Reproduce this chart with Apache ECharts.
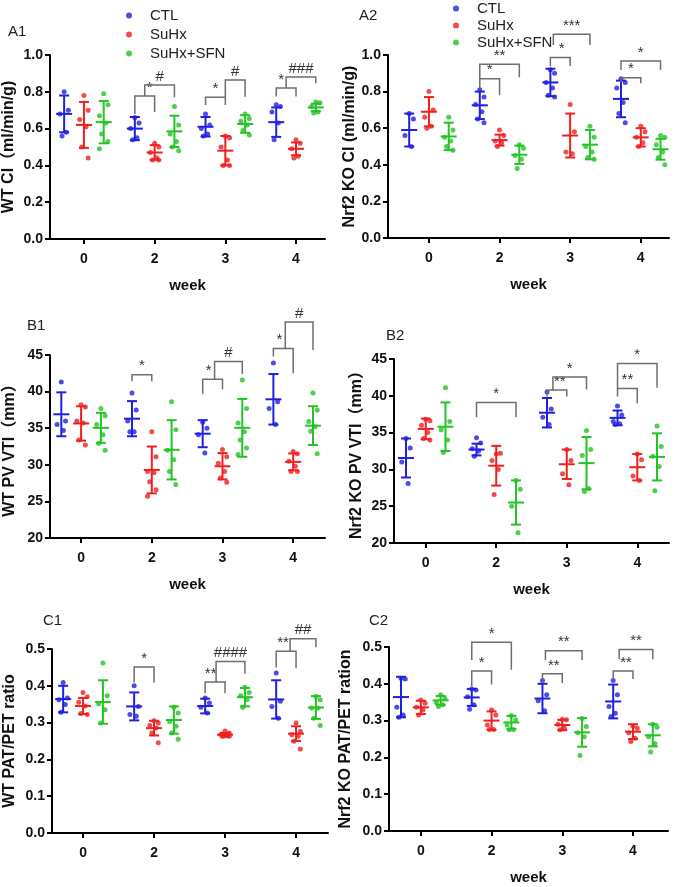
<!DOCTYPE html>
<html>
<head>
<meta charset="utf-8">
<script src="https://cdn.jsdelivr.net/npm/echarts@6/dist/echarts.min.js"></script>
<style>
html,body{margin:0;padding:0;background:#fff;}
#main{width:676px;height:887px;}
</style>
</head>
<body>
<div id="main"></div>
<script>
// 周数和分组
var weeks = ['0', '2', '3', '4'];
var groups = ['CTL', 'SuHx', 'SuHx+SFN'];

// A1 WT CI, 每周各点
var a1Ctl = [[0.80,0.70,0.68,0.58,0.56],[0.66,0.63,0.60,0.55,0.54],[0.68,0.62,0.60,0.57,0.56],[0.73,0.72,0.69,0.63,0.54]];
var a1Suhx = [[0.78,0.70,0.65,0.61,0.50,0.44],[0.52,0.50,0.47,0.44,0.43,0.43],[0.56,0.55,0.50,0.43,0.40,0.40],[0.54,0.52,0.49,0.45,0.44]];
var a1Sfn = [[0.79,0.73,0.67,0.63,0.57,0.53,0.49],[0.72,0.62,0.57,0.53,0.50,0.48],[0.68,0.655,0.64,0.62,0.59,0.565],[0.745,0.74,0.72,0.69,0.685]];
var a1Mean = [[0.68,0.62,0.635],[0.60,0.47,0.585],[0.61,0.48,0.625],[0.635,0.49,0.715]];
var a1Sd = [[0.10,0.125,0.115],[0.063,0.04,0.085],[0.053,0.08,0.048],[0.08,0.035,0.02]];
// [周, 起组, 止组, 顶, 左脚, 右脚, 标记]
var a1Sig = [[1,0,1,0.777,0.68,0.69,'*'],[1,0.5,2,0.837,0.777,0.77,'#'],[2,0,1,0.77,0.728,0.728,'*'],[2,1,2,0.864,0.77,0.773,'#'],[3,0,1,0.82,0.775,0.775,'*'],[3,0.5,2,0.88,0.82,0.846,'###']];

// A2 Nrf2 KO CI
var a2Ctl = [[0.68,0.65,0.56,0.50],[0.81,0.77,0.73,0.69,0.65,0.63],[0.92,0.90,0.85,0.82,0.78,0.77],[0.87,0.85,0.82,0.74,0.68,0.63]];
var a2Suhx = [[0.80,0.70,0.66,0.61,0.60],[0.59,0.56,0.53,0.52,0.50],[0.73,0.58,0.47,0.46],[0.61,0.58,0.55,0.52,0.50]];
var a2Sfn = [[0.66,0.59,0.55,0.53,0.50,0.48],[0.51,0.49,0.45,0.43,0.38],[0.61,0.55,0.50,0.47,0.44,0.43],[0.56,0.55,0.51,0.47,0.44,0.40]];
var a2Mean = [[0.59,0.69,0.555],[0.725,0.535,0.455],[0.85,0.56,0.51],[0.76,0.55,0.485]];
var a2Sd = [[0.09,0.08,0.075],[0.075,0.03,0.05],[0.075,0.12,0.08],[0.10,0.05,0.057]];
var a2Sig = [[1,0,1,0.87,0.82,0.78,'*'],[1,0,2,0.95,0.87,0.878,'**'],[2,0,1,0.987,0.94,0.94,'*'],[2,0.15,2,1.113,1.055,1.055,'***'],[3,0,1,0.876,0.85,0.845,'*'],[3,0,2,0.967,0.918,0.918,'*']];

// B1 WT PV VTI
var b1Ctl = [[41.3,36.0,35.5,34.7],[39.8,37.5,36.0,34.5,34.5],[35.8,35.0,34.1,31.6],[43.9,38.6,37.7,35.5]];
var b1Suhx = [[38.2,37.9,36.0,35.7,33.4,32.7],[34.5,31.1,29.1,28.9,27.7,26.6,25.7],[32.1,31.1,30.2,29.1,28.2,27.6],[31.8,31.5,30.5,29.8,29.1,29.1]];
var b1Sfn = [[37.7,36.7,35.5,34.1,32.9,32.0],[38.6,34.8,32.0,30.7,29.1,27.3],[41.6,37.7,35.7,34.5,33.4,32.3,31.4],[39.8,37.5,35.9,35.2,34.6,31.5]];
var b1Mean = [[36.9,35.65,35.05],[36.3,29.3,32.05],[34.25,29.8,35.05],[38.95,30.4,35.35]];
var b1Sd = [[3.0,2.35,2.05],[2.4,3.2,4.05],[1.85,1.8,3.95],[3.45,1.15,2.65]];
var b1Sig = [[1,0,1,42.3,41.4,41.4,'*'],[2,0,1,41.7,39.7,40.3,'*'],[2,0.6,2,44.1,41.7,42.4,'#'],[3,0,1,45.9,44.8,42.5,'*'],[3,0.6,2,49.5,45.9,45.7,'#']];

// B2 Nrf2 KO PV VTI
var b2Ctl = [[34.2,32.9,31.0,28.1],[34.3,33.6,32.8,32.5,31.8],[40.5,38.2,37.1,36.1],[38.6,37.4,36.5,36.2,36.1]];
var b2Suhx = [[36.8,36.6,36.0,35.0,34.2,34.0],[32.1,32.2,31.2,30.0,26.6],[32.7,31.2,29.4,27.9],[32.1,31.3,29.1,28.5]];
var b2Sfn = [[41.1,36.5,35.4,34.0,32.3],[28.5,27.3,25.0,21.4],[35.3,32.7,31.9,27.4,27.0],[35.9,33.1,31.8,30.4,27.1]];
var b2Mean = [[31.55,35.5,35.8],[32.7,30.5,25.5],[37.7,30.7,30.85],[37.0,30.3,31.7]];
var b2Sd = [[2.65,1.4,3.3],[0.8,2.7,3.0],[2.0,2.0,3.55],[1.0,1.8,3.2]];
var b2Sig = [[1,0,2,39.1,37.1,37.1,'*'],[2,0,1,40.8,39.9,39.9,'**'],[2,0.3,2,42.55,40.8,40.9,'*'],[3,0,1,41.0,39.9,39.0,'**'],[3,0,2,44.4,41.0,41.1,'*']];

// C1 WT PAT/PET
var c1Ctl = [[0.409,0.367,0.362,0.349,0.328],[0.40,0.344,0.322,0.317],[0.367,0.353,0.342,0.326],[0.435,0.358,0.344,0.312]];
var c1Suhx = [[0.382,0.37,0.355,0.345,0.325,0.322],[0.305,0.299,0.292,0.285,0.272,0.245],[0.277,0.272,0.268,0.264,0.262,0.263],[0.299,0.276,0.267,0.263,0.249,0.228]];
var c1Sfn = [[0.462,0.373,0.351,0.335,0.299],[0.342,0.326,0.303,0.29,0.272,0.255],[0.396,0.382,0.373,0.362,0.341],[0.371,0.362,0.34,0.34,0.312,0.292]];
var c1Mean = [[0.364,0.345,0.356],[0.344,0.285,0.307],[0.345,0.267,0.369],[0.363,0.27,0.341]];
var c1Sd = [[0.036,0.022,0.059],[0.038,0.02,0.037],[0.02,0.005,0.025],[0.052,0.02,0.031]];
var c1Sig = [[1,0,1,0.451,0.409,0.409,'*'],[2,0,1,0.41,0.38,0.38,'**'],[2,0.55,2,0.466,0.41,0.433,'####'],[3,0,1,0.494,0.45,0.448,'**'],[3,0.7,2,0.528,0.494,0.505,'##']];

// C2 Nrf2 KO PAT/PET
var c2Ctl = [[0.415,0.413,0.336,0.315,0.309],[0.386,0.383,0.365,0.343,0.331],[0.409,0.37,0.354,0.327],[0.409,0.37,0.338,0.32,0.311]];
var c2Suhx = [[0.356,0.347,0.336,0.329,0.315],[0.329,0.315,0.288,0.276,0.276],[0.304,0.302,0.29,0.279,0.275],[0.285,0.279,0.267,0.252,0.243]];
var c2Sfn = [[0.37,0.36,0.349,0.343,0.338],[0.313,0.302,0.288,0.276,0.275],[0.306,0.284,0.267,0.256,0.205],[0.29,0.282,0.256,0.238,0.215]];
var c2Mean = [[0.364,0.336,0.355],[0.363,0.30,0.295],[0.36,0.288,0.268],[0.352,0.27,0.26]];
var c2Sd = [[0.055,0.018,0.012],[0.023,0.025,0.018],[0.04,0.014,0.039],[0.046,0.02,0.03]];
var c2Sig = [[1,0,1,0.435,0.393,0.398,'*'],[1,0,2,0.513,0.465,0.438,'*'],[2,0,1,0.427,0.402,0.402,'**'],[2,0.15,2,0.49,0.465,0.465,'**'],[3,0,1,0.435,0.413,0.413,'**'],[3,0.3,2,0.493,0.467,0.467,'**']];

var GAP = 0.28; //组间距
var colors = ['#1f1fe0', '#f01e1e', '#22c322'];
var jit = [0, 0.06, -0.06, 0.03, -0.03, 0.06, -0.06];
var FONT = 'Arial, "Liberation Sans", "Noto Sans CJK SC", sans-serif';

var panels = [
	{tag:'A1', pts:[a1Ctl,a1Suhx,a1Sfn], mean:a1Mean, sd:a1Sd, sig:a1Sig, yMin:0, yMax:1, yStep:0.2, dec:1,
	 yName:'WT CI（ml/min/g)', left:50, top:55, width:275, height:184, xMin:-0.48, xMax:3.41, nameGap:33, week:true, tagX:8, tagY:24},
	{tag:'A2', pts:[a2Ctl,a2Suhx,a2Sfn], mean:a2Mean, sd:a2Sd, sig:a2Sig, yMin:0, yMax:1, yStep:0.2, dec:1,
	 yName:'Nrf2 KO CI (ml/min/g)', left:388, top:55, width:281, height:183, xMin:-0.58, xMax:3.40, nameGap:25, week:true, tagX:359, tagY:8},
	{tag:'B1', pts:[b1Ctl,b1Suhx,b1Sfn], mean:b1Mean, sd:b1Sd, sig:b1Sig, yMin:20, yMax:45, yStep:5, dec:0,
	 yName:'WT PV VTI（mm）', left:50, top:355, width:275, height:183, xMin:-0.44, xMax:3.45, nameGap:32, week:true, tagX:27, tagY:318},
	{tag:'B2', pts:[b2Ctl,b2Suhx,b2Sfn], mean:b2Mean, sd:b2Sd, sig:b2Sig, yMin:20, yMax:45, yStep:5, dec:0,
	 yName:'Nrf2 KO PV VTI（mm）', left:394, top:359, width:275, height:184, xMin:-0.45, xMax:3.45, nameGap:29, week:true, tagX:386, tagY:328},
	{tag:'C1', pts:[c1Ctl,c1Suhx,c1Sfn], mean:c1Mean, sd:c1Sd, sig:c1Sig, yMin:0, yMax:0.5, yStep:0.1, dec:1,
	 yName:'WT PAT/PET ratio', left:52, top:649, width:276, height:184, xMin:-0.437, xMax:3.45, nameGap:34, week:false, tagX:43, tagY:613},
	{tag:'C2', pts:[c2Ctl,c2Suhx,c2Sfn], mean:c2Mean, sd:c2Sd, sig:c2Sig, yMin:0, yMax:0.5, yStep:0.1, dec:1,
	 yName:'Nrf2 KO PAT/PET ration', left:389, top:647, width:279, height:184, xMin:-0.45, xMax:3.495, nameGap:35, week:true, tagX:369, tagY:613}
];

//误差线
function renderBar(params, api) {
	var x = api.value(0), m = api.value(1), s = api.value(2), g = api.value(3);
	var top = api.coord([x, m + s]), bot = api.coord([x, m - s]), mid = api.coord([x, m]);
	var st = {stroke: colors[g], lineWidth: 2};
	return {type: 'group', children: [
		{type: 'line', shape: {x1: top[0], y1: top[1], x2: bot[0], y2: bot[1]}, style: st},
		{type: 'line', shape: {x1: top[0] - 5, y1: top[1], x2: top[0] + 5, y2: top[1]}, style: st},
		{type: 'line', shape: {x1: bot[0] - 5, y1: bot[1], x2: bot[0] + 5, y2: bot[1]}, style: st},
		{type: 'line', shape: {x1: mid[0] - 8, y1: mid[1], x2: mid[0] + 8, y2: mid[1]}, style: st}
	]};
}

//显著性括号
function makeSig(sig) {
	return function(params, api) {
		var b = sig[params.dataIndex];
		var xa = b[0] + (b[1] - 1) * GAP, xb = b[0] + (b[2] - 1) * GAP;
		var t1 = api.coord([xa, b[3]]), t2 = api.coord([xb, b[3]]);
		var pl = api.coord([xa, b[4]]), pr = api.coord([xb, b[5]]);
		// 上层括号的脚落在本括号中间时, 标记放在较宽的一段
		var lx = (t1[0] + t2[0]) / 2;
		sig.forEach(function(c) {
			if (c !== b && c[0] === b[0] && c[3] > b[3] && c[1] > b[1] + 0.05 && c[1] < b[2] - 0.05) {
				var xs = api.coord([c[0] + (c[1] - 1) * GAP, b[3]])[0];
				lx = (xs - t1[0] >= t2[0] - xs) ? (t1[0] + xs) / 2 : (xs + t2[0]) / 2;
			}
		});
		return {type: 'group', children: [
			{type: 'polyline', shape: {points: [pl, t1, t2, pr]}, style: {stroke: '#6e6e6e', lineWidth: 1.5, fill: null}},
			{type: 'text', x: lx, y: t1[1] - 1,
			 style: {text: b[6], align: 'center', verticalAlign: 'bottom', fontSize: 15, fontFamily: FONT, fill: '#333'}}
		]};
	};
}

var grids = [], xAxes = [], yAxes = [], series = [], titles = [];
panels.forEach(function(p, k) {
	grids.push({left: p.left, top: p.top, width: p.width, height: p.height});
	titles.push({text: p.tag, left: p.tagX, top: p.tagY, padding: 0,
		textStyle: {fontSize: 15, fontWeight: 'normal', color: '#222', fontFamily: FONT}});
	xAxes.push({
		type: 'value', gridIndex: k, min: p.xMin, max: p.xMax,
		name: p.week ? 'week' : '', nameLocation: 'middle', nameGap: 39,
		nameTextStyle: {fontSize: 15, fontWeight: 'bold', color: '#111', fontFamily: FONT},
		splitLine: {show: false},
		axisLine: {onZero: false, lineStyle: {color: '#000', width: 2}},
		axisTick: {customValues: [0, 1, 2, 3], length: 5, lineStyle: {color: '#000', width: 2}},
		axisLabel: {customValues: [0, 1, 2, 3], margin: 13, fontSize: 14, fontWeight: 'bold', color: '#111', fontFamily: FONT,
			formatter: function(v) { return weeks[Math.round(v)]; }}
	});
	yAxes.push({
		type: 'value', gridIndex: k, min: p.yMin, max: p.yMax, interval: p.yStep,
		name: p.yName, nameLocation: 'middle', nameGap: p.nameGap,
		nameTextStyle: {fontSize: 16, fontWeight: 'bold', color: '#111', fontFamily: FONT},
		splitLine: {show: false},
		axisLine: {show: true, onZero: false, lineStyle: {color: '#000', width: 2}},
		axisTick: {show: true, length: 5, lineStyle: {color: '#000', width: 2}},
		axisLabel: {margin: 7, fontSize: 14, fontWeight: 'bold', color: '#111', fontFamily: FONT,
			formatter: function(v) { return v.toFixed(p.dec); }}
	});
	var bars = [];
	for (var g = 0; g < 3; g++) {
		var data = [];
		for (var w = 0; w < 4; w++) {
			var cx = w + (g - 1) * GAP;
			p.pts[g][w].forEach(function(v, i) {
				data.push([cx + jit[i % jit.length], v]);
			});
			bars.push([cx, p.mean[w][g], p.sd[w][g], g]);
		}
		series.push({name: groups[g], type: 'scatter', xAxisIndex: k, yAxisIndex: k,
			symbolSize: 5, itemStyle: {color: colors[g]}, data: data, z: 3});
	}
	series.push({type: 'custom', xAxisIndex: k, yAxisIndex: k, renderItem: renderBar, data: bars, z: 4});
	series.push({type: 'custom', xAxisIndex: k, yAxisIndex: k, renderItem: makeSig(p.sig), clip: false,
		data: p.sig.map(function(b) { return [b[0], b[3]]; }), z: 5});
});

var legendBase = {data: groups, orient: 'vertical', icon: 'circle', itemWidth: 6, itemHeight: 6,
	textStyle: {fontSize: 15, color: '#222', fontFamily: FONT, padding: [0, 0, 0, 13]}};

var myChart = echarts.init(document.getElementById('main'));
myChart.setOption({
	animation: false,
	backgroundColor: '#fff',
	title: titles,
	legend: [
		Object.assign({}, legendBase, {left: 121, top: 3, itemGap: 4}),
		Object.assign({}, legendBase, {left: 448, top: -4, itemGap: 2})
	],
	grid: grids,
	xAxis: xAxes,
	yAxis: yAxes,
	series: series
});
</script>
</body>
</html>
